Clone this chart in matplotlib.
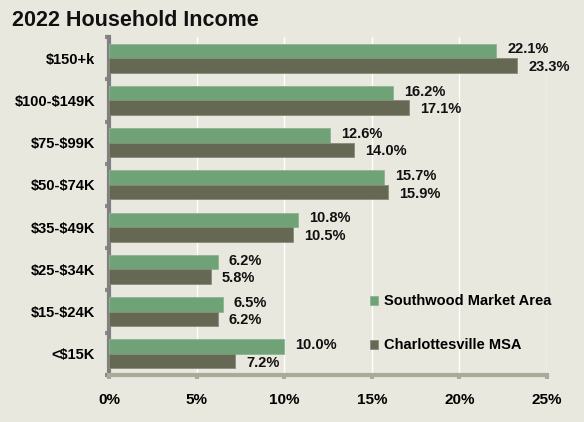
import numpy as np
import matplotlib.pyplot as plt

plt.rcParams['font.family'] = ['Liberation Sans', 'DejaVu Sans']
plt.rcParams['font.weight'] = 'bold'
plt.rcParams['text.parse_math'] = False

categories = ['$150+k', '$100-$149K', '$75-$99K', '$50-$74K',
              '$35-$49K', '$25-$34K', '$15-$24K', '<$15K']
southwood = [22.1, 16.2, 12.6, 15.7, 10.8, 6.2, 6.5, 10.0]
charlottesville = [23.3, 17.1, 14.0, 15.9, 10.5, 5.8, 6.2, 7.2]
xticks = [0, 5, 10, 15, 20, 25]

bg = '#E9E8DE'
green = '#6FA276'
dark = '#656852'

fig = plt.figure(figsize=(5.84, 4.22), dpi=100, facecolor=bg)
ax = fig.add_axes([0.1866, 0.1114, 0.75, 0.8009], facecolor=bg)

y = np.arange(len(categories))
h = 0.345
ax.barh(y - h / 2, southwood, height=h, color=green, edgecolor='#8DB592',
        linewidth=0.6, label='Southwood Market Area', zorder=3)
ax.barh(y + h / 2, charlottesville, height=h, color=dark, edgecolor='#8A8C78',
        linewidth=0.6, label='Charlottesville MSA', zorder=3)

for i in range(len(categories)):
    ax.annotate(f'{southwood[i]:.1f}%', (southwood[i], y[i] - h / 2),
                xytext=(8, 1), textcoords='offset points', va='center',
                ha='left', fontsize=10.5, fontweight='bold', color='#111111')
    ax.annotate(f'{charlottesville[i]:.1f}%', (charlottesville[i], y[i] + h / 2),
                xytext=(8, -1), textcoords='offset points', va='center',
                ha='left', fontsize=10.5, fontweight='bold', color='#111111')

ax.set_ylim(len(categories) - 0.5, -0.5)
ax.set_xlim(0, 25)
ax.set_xticks(xticks)
ax.set_xticklabels([f'{t}%' for t in xticks], fontsize=11, fontweight='bold')
ax.set_yticks(y)
ax.set_yticklabels(categories, fontsize=10.5, fontweight='bold')
ax.tick_params(axis='y', length=0, pad=10)
ax.tick_params(axis='x', length=3, width=3, color='#A9AB98', pad=10)

# minor ticks on y axis between categories
ax.set_yticks(np.arange(-0.5, len(categories), 1), minor=True)
ax.tick_params(axis='y', which='minor', length=3, width=3, color='#8A8A8A')

ax.grid(axis='x', color='white', linewidth=1, zorder=0)
for s in ['top', 'right']:
    ax.spines[s].set_visible(False)
ax.spines['left'].set_color('#808080')
ax.spines['left'].set_linewidth(3)
ax.spines['bottom'].set_color('#A9AB98')
ax.spines['bottom'].set_linewidth(3)

leg = ax.legend(loc='upper left', bbox_to_anchor=(0.565, 0.277), frameon=False,
                fontsize=10.5, handlelength=0.6, handleheight=0.6,
                handletextpad=0.4, labelspacing=2.05)
for t in leg.get_texts():
    t.set_fontweight('bold')

fig.text(0.02, 0.952, '2022 Household Income', fontsize=15.5, fontweight='bold',
         va='center', ha='left', color='#111111')

fig.savefig('out.png', dpi=100, facecolor=bg)
